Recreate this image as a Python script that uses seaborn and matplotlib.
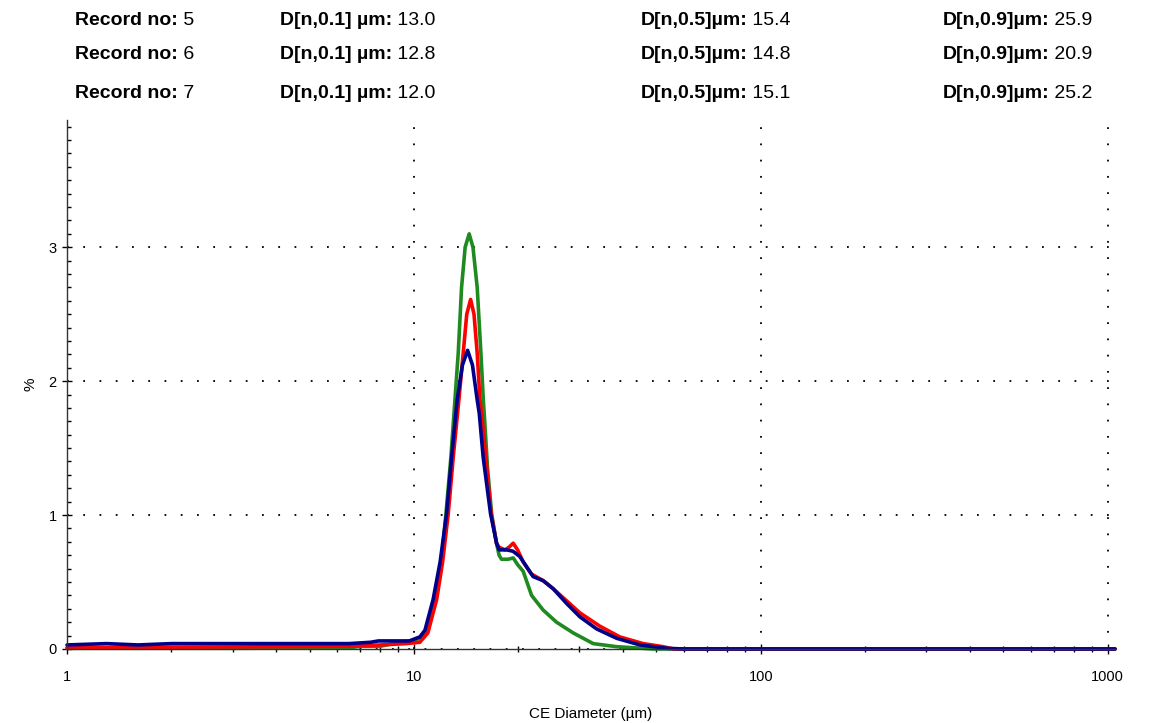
# imports
# pandas for the dataframe, seaborn + matplotlib for plotting
import pandas as pd
import seaborn as sns
from matplotlib import pyplot as plt
from matplotlib.ticker import LogLocator, MultipleLocator, NullFormatter, FuncFormatter

# header values
records = ["5", "6", "7"]
d10 = ["13.0", "12.8", "12.0"]
d50 = ["15.4", "14.8", "15.1"]
d90 = ["25.9", "20.9", "25.2"]

# number distribution curves (CE diameter in um, % by number)
green_x = [1, 3, 6.5, 7, 8, 9.1, 9.9, 10.4, 10.97, 11.5, 12.0, 12.37, 12.78, 13.13,
           13.42, 13.72, 14.05, 14.43, 14.8, 15.22, 15.6, 15.85, 16.0, 16.3, 16.75,
           17.3, 17.6, 17.89, 18.7, 19.33, 19.9, 20.65, 21.84, 23.59, 25.77, 28.78,
           32.87, 38.38, 48.86, 100, 1050]
green_y = [0.005, 0.005, 0.008, 0.02, 0.02, 0.05, 0.06, 0.08, 0.15, 0.37, 0.65, 1.01,
           1.43, 1.86, 2.21, 2.70, 3.00, 3.10, 3.00, 2.70, 2.21, 1.86, 1.70, 1.35,
           1.01, 0.79, 0.70, 0.67, 0.67, 0.68, 0.63, 0.58, 0.40, 0.29, 0.20, 0.12,
           0.04, 0.017, 0.0, 0.0, 0.0]

red_x = [1, 3, 6.5, 8, 9.5, 10.4, 10.97, 11.63, 12.1, 12.56, 12.98, 13.36, 13.48,
         13.87, 14.2, 14.57, 14.9, 15.22, 15.5, 15.67, 16.12, 16.7, 17.3, 17.6,
         18.3, 18.8, 19.33, 19.9, 20.65, 21.8, 23.59, 25.2, 27.55, 30.09, 34.36,
         39.24, 45.8, 52.29, 56, 100, 1050]
red_y = [0.01, 0.015, 0.02, 0.03, 0.04, 0.05, 0.12, 0.37, 0.65, 1.01, 1.43, 1.76,
         1.86, 2.21, 2.50, 2.61, 2.50, 2.21, 1.86, 1.76, 1.43, 1.01, 0.79, 0.76,
         0.74, 0.76, 0.79, 0.74, 0.65, 0.56, 0.51, 0.45, 0.36, 0.27, 0.17, 0.09,
         0.04, 0.017, 0.0, 0.0, 0.0]

blue_x = [1, 1.3, 1.6, 2, 4, 6.5, 7.5, 7.9, 9.7, 10.4, 10.76, 11.36, 11.9, 12.42,
          12.84, 13.21, 13.33, 13.8, 14.28, 14.75, 15.22, 15.43, 15.84, 16.63,
          17.31, 17.6, 18.5, 19.3, 20.2, 22.07, 23.59, 25.2, 27.55, 30.09, 33.62,
          38.38, 44.81, 53.48, 60, 1050]
blue_y = [0.03, 0.04, 0.03, 0.04, 0.04, 0.04, 0.05, 0.06, 0.06, 0.09, 0.14, 0.37,
          0.65, 1.01, 1.43, 1.76, 1.86, 2.12, 2.23, 2.12, 1.86, 1.76, 1.43, 1.01,
          0.79, 0.74, 0.74, 0.73, 0.69, 0.54, 0.51, 0.45, 0.34, 0.24, 0.15, 0.08,
          0.03, 0.005, 0.0, 0.0]

# one long dataframe, hue = curve colour
df = pd.concat([
    pd.DataFrame({"d": green_x, "pct": green_y, "rec": "green"}),
    pd.DataFrame({"d": red_x, "pct": red_y, "rec": "red"}),
    pd.DataFrame({"d": blue_x, "pct": blue_y, "rec": "blue"}),
])
palette = {"green": "#1f8a1f", "red": "#ff0000", "blue": "#00008b"}

sns.set_style("white")
plt.rcParams["font.family"] = ["Liberation Sans", "DejaVu Sans"]
plt.rcParams["text.color"] = "black"
plt.rcParams["axes.labelcolor"] = "black"
plt.rcParams["xtick.color"] = "black"
plt.rcParams["ytick.color"] = "black"

fig = plt.figure(figsize=(11.52, 7.23), dpi=100)
ax = fig.add_axes([0.0582, 0.1024, 0.9097, 0.7316])

sns.lineplot(data=df, x="d", y="pct", hue="rec", palette=palette,
             estimator=None, sort=False, linewidth=2.6, legend=False, ax=ax,
             clip_on=False)

ax.set_xscale("log")
ax.set_xlim(1, 1050)
ax.set_ylim(0, 3.95)

# ticks: log decades on x, 0.1 minor on y
ax.xaxis.set_major_locator(LogLocator(base=10))
ax.xaxis.set_minor_locator(LogLocator(base=10, subs=range(2, 10)))
ax.xaxis.set_minor_formatter(NullFormatter())
ax.xaxis.set_major_formatter(FuncFormatter(lambda v, p: f"{v:g}"))
ax.yaxis.set_major_locator(MultipleLocator(1))
ax.yaxis.set_minor_locator(MultipleLocator(0.1))
ax.tick_params(which="both", bottom=True, left=True)
ax.tick_params(which="major", direction="inout", length=7, width=1, labelsize=10.5)
ax.tick_params(axis="x", which="major", pad=12)
ax.tick_params(axis="y", which="major", pad=4)
ax.tick_params(axis="x", which="minor", direction="inout", length=5, width=1)
ax.tick_params(axis="y", which="minor", direction="in", length=3, width=1)

# dotted grid like the instrument software
ax.grid(True, which="major", linestyle=(0, (1, 8)), color="black", linewidth=1.3)

for s in ["top", "right"]:
    ax.spines[s].set_visible(False)
for s in ["left", "bottom"]:
    ax.spines[s].set_color("#333333")
    ax.spines[s].set_linewidth(1.0)

ax.set_xlabel("CE Diameter (µm)", fontsize=11, labelpad=16)
ax.set_ylabel("%", fontsize=11, labelpad=8)

# header block with the D[n,x] values, bold label + plain value
rows_y = [0.972, 0.925, 0.871]
cols_x = [0.065, 0.243, 0.556, 0.818]
heads = ["Record no:", "D[n,0.1] µm:", "D[n,0.5]µm:", "D[n,0.9]µm:"]
for i, yy in enumerate(rows_y):
    vals = [records[i], d10[i], d50[i], d90[i]]
    for xx, h, v in zip(cols_x, heads, vals):
        t = fig.text(xx, yy, h, fontsize=14, fontweight="bold", va="center", ha="left")
        ax.annotate(" " + v, xy=(1, 0.5), xycoords=t, va="center", ha="left",
                    fontsize=14, annotation_clip=False)

fig.savefig("out.png", dpi=100)
